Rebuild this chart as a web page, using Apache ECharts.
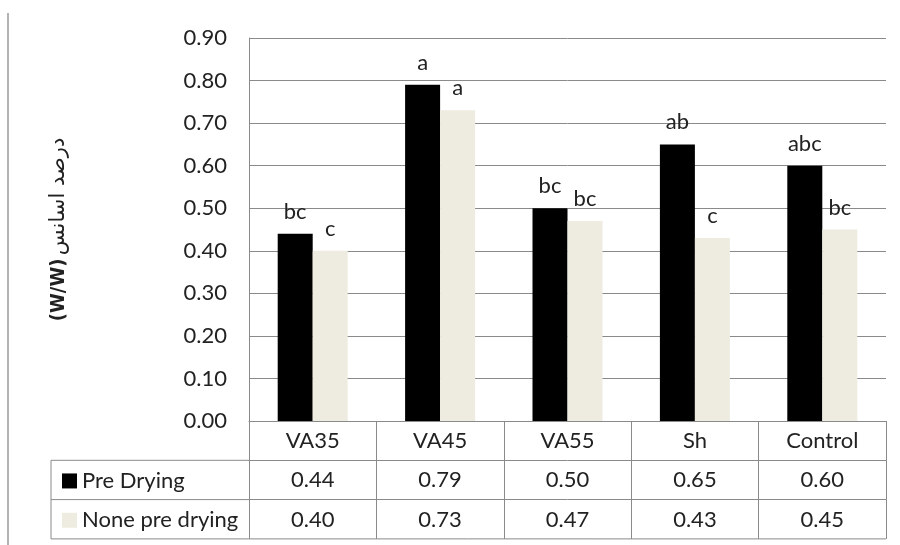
<!DOCTYPE html>
<html>
<head>
<meta charset="utf-8">
<script src="https://cdn.jsdelivr.net/npm/echarts@6/dist/echarts.min.js"></script>
<style>html,body{margin:0;padding:0;background:#fff}#c{width:900px;height:545px}</style>
</head>
<body>
<div id="c"></div>
<script>
const categories = ['VA35', 'VA45', 'VA55', 'Sh', 'Control'];
const preDrying = [0.44, 0.79, 0.50, 0.65, 0.60];
const nonePreDrying = [0.40, 0.73, 0.47, 0.43, 0.45];
const preLetters = ['bc', 'a', 'bc', 'ab', 'abc'];
const noneLetters = ['c', 'a', 'bc', 'c', 'bc'];
const seriesNames = ['Pre Drying', 'None pre drying'];
const yMin = 0, yMax = 0.9, yStep = 0.1;

const GL = 249, GR = 886, GT = 38, GB = 421, ROW = 39.3, TL = 51;
const LINE = '#8a8a8a', TXT = '#222222', FONT = 'Lato';

const chart = echarts.init(document.getElementById('c'));

function tableAxis(offset, fmt, len) {
  return {
    type: 'category', data: categories, position: 'bottom', offset: offset,
    axisLine: { show: true, lineStyle: { color: LINE, width: 1 } },
    axisTick: { show: true, length: len, inside: false, interval: 0, lineStyle: { color: LINE, width: 1 } },
    axisLabel: { show: true, interval: 0, margin: 9, fontSize: 22, fontFamily: FONT, color: TXT, formatter: fmt },
    splitLine: { show: false }
  };
}

const ln = (x1, y1, x2, y2) => ({ type: 'line', shape: { x1, y1, x2, y2 }, style: { stroke: LINE, lineWidth: 1 } });

chart.setOption({
  animation: false,
  backgroundColor: '#fff',
  grid: { left: GL, right: 900 - GR, top: GT, bottom: 545 - GB, containLabel: false },
  legend: {
    orient: 'vertical', left: TL + 6, top: GB + ROW + ROW / 2 - 15,
    itemWidth: 15, itemHeight: 15, itemGap: ROW - 22,
    icon: 'rect',
    textStyle: { fontSize: 22, fontFamily: FONT, color: TXT, lineHeight: 22 },
    data: seriesNames
  },
  xAxis: [
    tableAxis(0, v => v, ROW),
    tableAxis(ROW, (v, i) => preDrying[i].toFixed(2), ROW),
    tableAxis(ROW * 2, (v, i) => nonePreDrying[i].toFixed(2), ROW)
  ],
  yAxis: {
    type: 'value', min: yMin, max: yMax, interval: yStep,
    axisLine: { show: true, lineStyle: { color: LINE, width: 1 } },
    axisTick: { show: false },
    splitLine: { show: true, lineStyle: { color: LINE, width: 1 } },
    axisLabel: { margin: 22, fontSize: 22, fontFamily: FONT, color: TXT, formatter: v => v.toFixed(2) },
    name: '{b|(W/W)} {n|درصد اسانس}',
    nameLocation: 'middle', nameRotate: 90, nameGap: 180,
    nameTextStyle: {
      color: TXT,
      rich: {
        b: { fontWeight: 'bold', fontSize: 20, fontFamily: 'DejaVu Sans Condensed', color: TXT },
        n: { fontSize: 21, fontFamily: 'DejaVu Sans', color: TXT }
      }
    }
  },
  series: [
    {
      name: seriesNames[0], type: 'bar', data: preDrying, barWidth: 35, barGap: '0%',
      itemStyle: { color: '#000000' },
      label: { show: true, position: 'top', distance: 11, fontSize: 22, fontFamily: FONT, color: TXT,
        formatter: p => preLetters[p.dataIndex] }
    },
    {
      name: seriesNames[1], type: 'bar', data: nonePreDrying, barWidth: 35, barGap: '0%',
      itemStyle: { color: '#EEECE1' },
      label: { show: true, position: 'top', distance: 11, fontSize: 22, fontFamily: FONT, color: TXT,
        formatter: p => noneLetters[p.dataIndex] }
    }
  ],
  graphic: [
    ln(TL, GB + ROW, GL, GB + ROW),
    ln(TL, GB + ROW * 2, GL, GB + ROW * 2),
    ln(TL, GB + ROW * 3, GR, GB + ROW * 3),
    ln(TL, GB + ROW, TL, GB + ROW * 3),
    { type: 'line', shape: { x1: 8, y1: 13, x2: 8, y2: 545 }, style: { stroke: '#9a9a9a', lineWidth: 1.5 } }
  ]
});
</script>
</body>
</html>
